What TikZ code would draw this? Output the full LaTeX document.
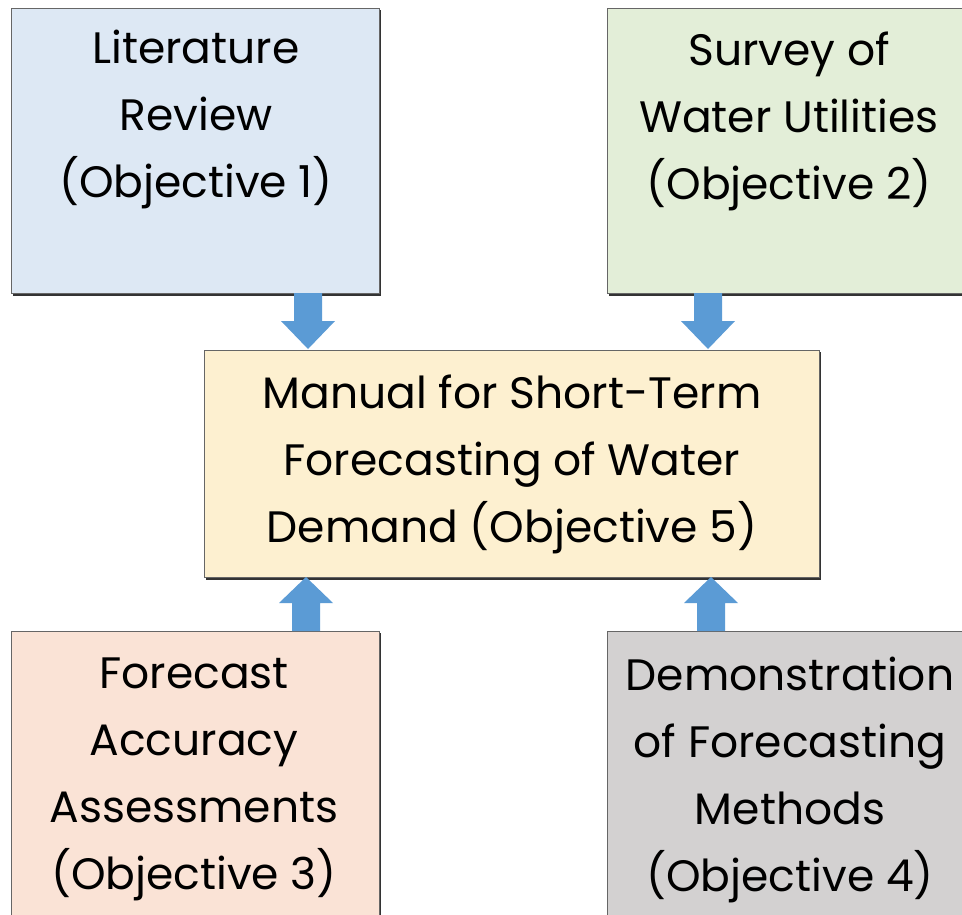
\documentclass[tikz,border=0pt]{standalone}
\usepackage{fontspec}
\setmainfont{Poppins}
\usetikzlibrary{positioning}

\definecolor{litfill}{HTML}{DDE8F4}
\definecolor{survfill}{HTML}{E3EED8}
\definecolor{manfill}{HTML}{FDF0D0}
\definecolor{accfill}{HTML}{FAE3D6}
\definecolor{demfill}{HTML}{D3D1D1}
\definecolor{framegray}{HTML}{666666}
\definecolor{shadowgray}{HTML}{333333}
\definecolor{arrowblue}{HTML}{5B9BD5}

\tikzset{
  objbox/.style={draw=framegray, line width=1.2pt, inner sep=0pt, anchor=north west},
  objtext/.style={align=center, inner sep=0pt, anchor=north, text=black,
    font=\fontsize{44}{67}\selectfont},
}

% box with a dark shadow edge along the bottom and right
\newcommand{\objectivebox}[6]{%
  \fill[shadowgray] (#2+2,#3+2) rectangle (#2+#4+2,#3+#5+2.5);
  \node[objbox, fill=#6, minimum width=#4pt, minimum height=#5pt] (#1) at (#2,#3) {};
}

% thick block arrow: shaft from (x,y0) to (x,y1), head from y1 to tip at y2
\newcommand{\blockarrow}[4]{%
  \fill[arrowblue] (#1-14,#2) -- (#1-14,#3) -- (#1-27,#3) -- (#1,#4)
    -- (#1+27,#3) -- (#1+14,#3) -- (#1+14,#2) -- cycle;
}

\begin{document}
\begin{tikzpicture}[x=1pt,y=-1pt]
\useasboundingbox (0,0) rectangle (962,914);
\fill[white] (0,0) rectangle (962,914);

% objective boxes
\objectivebox{lit}{11}{8}{368}{285}{litfill}
\objectivebox{surv}{607}{8}{370}{285}{survfill}
\objectivebox{man}{204}{350}{615}{227}{manfill}
\objectivebox{acc}{11}{631}{368}{290}{accfill}
\objectivebox{dem}{607}{631}{370}{290}{demfill}

% labels (first baseline sits 0.7*67 below the node top)
\node[objtext] (litT)  at (196,63-46.9)  {\strut Literature\\Review\\(Objective 1)};
\node[objtext] (survT) at (789,65-46.9)  {\strut Survey of\\Water Utilities\\(Objective 2)};
\node[objtext] (manT)  at (512,408-46.9) {\strut Manual for Short-Term\\Forecasting of Water\\Demand (Objective 5)};
\node[objtext] (accT)  at (194,688-46.9) {\strut Forecast\\Accuracy\\Assessments\\(Objective 3)};
\node[objtext] (demT)  at (790,690-46.9) {\strut Demonstration\\of Forecasting\\Methods\\(Objective 4)};

% block arrows into the manual
\blockarrow{308}{293}{321}{349}
\blockarrow{708}{293}{321}{349}
\blockarrow{306}{631}{603}{577}
\blockarrow{711}{631}{603}{577}
\end{tikzpicture}
\end{document}
